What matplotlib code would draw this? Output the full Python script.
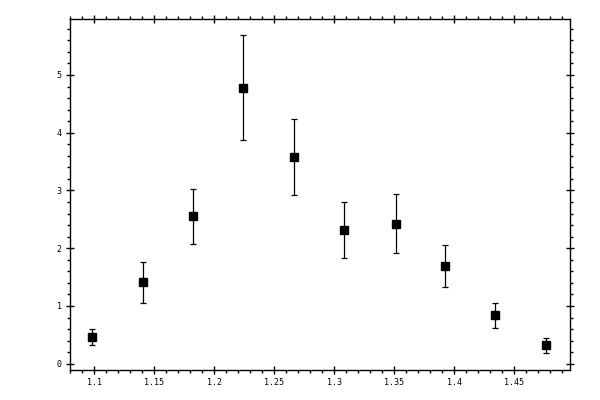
import matplotlib
matplotlib.use("Agg")
import matplotlib.pyplot as plt
from matplotlib.ticker import MultipleLocator
import numpy as np

# --- data
x_vals = [1.0983, 1.1408, 1.1825, 1.2242, 1.2667, 1.3083, 1.3512, 1.3925, 1.4342, 1.4767]
y_vals = [0.462, 1.413, 2.555, 4.770, 3.576, 2.313, 2.417, 1.690, 0.843, 0.324]
y_low = [0.329, 1.050, 2.070, 3.875, 2.920, 1.830, 1.915, 1.327, 0.618, 0.185]
y_high = [0.600, 1.760, 3.030, 5.690, 4.230, 2.800, 2.936, 2.054, 1.055, 0.445]

x_ticks = [1.1, 1.15, 1.2, 1.25, 1.3, 1.35, 1.4, 1.45]
x_labels = ["1.1", "1.15", "1.2", "1.25", "1.3", "1.35", "1.4", "1.45"]
y_ticks = [0, 1, 2, 3, 4, 5]
y_labels = ["0", "1", "2", "3", "4", "5"]

y = np.array(y_vals)
err = [y - np.array(y_low), np.array(y_high) - y]

fig = plt.figure(figsize=(6, 4), dpi=100)
ax = fig.add_axes([70 / 600, 30 / 400, 500 / 600, 351 / 400])

ax.errorbar(x_vals, y_vals, yerr=err, fmt="s", color="black",
            markersize=5.4, elinewidth=0.9, capsize=2.0, capthick=0.9)

ax.set_xlim(1.08, 1.4964)
ax.set_ylim(-0.109, 5.969)

ax.set_xticks(x_ticks)
ax.set_xticklabels(x_labels)
ax.set_yticks(y_ticks)
ax.set_yticklabels(y_labels)
ax.xaxis.set_minor_locator(MultipleLocator(0.01))
ax.yaxis.set_minor_locator(MultipleLocator(0.2))

for s in ax.spines.values():
    s.set_linewidth(1.0)

ax.tick_params(which="major", direction="inout", length=6, width=1.0,
               top=True, right=True, labelsize=6, pad=3)
ax.tick_params(which="minor", direction="out", length=2.4, width=1.0,
               top=True, right=True)
for lbl in ax.get_xticklabels() + ax.get_yticklabels():
    lbl.set_family("DejaVu Sans Mono")

fig.savefig("out.png", dpi=100)
